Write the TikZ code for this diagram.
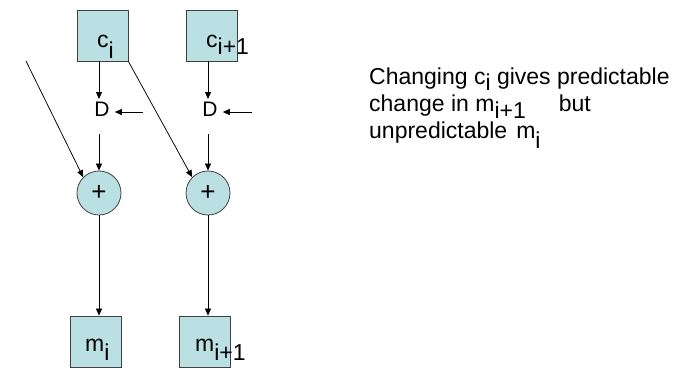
\documentclass[tikz,border=0pt]{standalone}
\usepackage{fontspec}
\setmainfont{Liberation Sans}
\usetikzlibrary{arrows.meta}
\definecolor{cellfill}{RGB}{187,224,227}
\definecolor{celledge}{RGB}{64,64,64}
\newcommand{\lowsub}[2][0.45em]{\raisebox{-#1}[0pt][0pt]{#2}}
\begin{document}
\begin{tikzpicture}[x=1pt,y=-1pt,
  cell/.style={draw=celledge, fill=cellfill, line width=0.8pt, minimum size=51pt, inner sep=0pt},
  adder/.style={draw=celledge, fill=cellfill, line width=0.8pt, circle, minimum size=44pt, inner sep=0pt, font=\fontsize{26}{26}\selectfont},
  lbl/.style={anchor=base west, inner sep=0pt, font=\fontsize{23}{23}\selectfont},
  delay/.style={inner sep=3pt, font=\fontsize{21}{21}\selectfont},
  arr/.style={-{Triangle[length=7pt,width=6pt]}, line width=0.75pt}]
\useasboundingbox (0,0) rectangle (691,368);
\node[cell] (c1) at (102.5,35.5) {};
\node[cell] (c2) at (212,35.5) {};
\node[cell] (m1) at (95.5,341.5) {};
\node[cell] (m2) at (204.5,341.5) {};
\node[lbl] (c1txt) at (97,47) {c\lowsub[0.48em]{i}};
\node[lbl] (c2txt) at (206,47) {c\lowsub[0.33em]{i+1}};
\node[lbl] (m1txt) at (85,351) {m\lowsub[0.43em]{i}};
\node[lbl] (m2txt) at (195,351) {m\lowsub[0.43em]{i+1}};
\node[delay] (d1) at (102,109.5) {D};
\node[delay] (d2) at (210,109.5) {D};
\node[adder] (s1) at (99,193) {+};
\node[adder] (s2) at (208,193) {+};
\coordinate (k1) at (143,112);
\coordinate (k2) at (252,112);
\coordinate (a1) at (26,61);
\coordinate (d1out) at ([yshift=-14pt]d1.south);
\coordinate (d2out) at ([yshift=-14pt]d2.south);
\draw[arr] (c1.south -| s1) -- (d1.north -| s1);
\draw[arr] (c2.south -| s2) -- (d2.north -| s2);
\draw[arr] (k1) -- ([xshift=2pt]d1.east |- k1);
\draw[arr] (k2) -- ([xshift=2pt]d2.east |- k2);
\draw[arr] (d1out -| s1) -- (s1.north);
\draw[arr] (d2out -| s2) -- (s2.north);
\draw[arr] (a1) -- (s1.north west);
\draw[arr] (c1.south east) -- (s2.north west);
\draw[arr] (s1.south) -- (s1.south |- m1.north);
\draw[arr] (s2.south) -- (s2.south |- m2.north);
\node[anchor=north west, align=left, inner sep=0pt, font=\fontsize{23}{27}\selectfont] (note) at (369,67.5)
  {Changing c\lowsub[0.25em]{i} gives predictable\\
   change in m\lowsub[0.3em]{i+1}\hspace{33pt}but\\
   unpredictable\hspace{9pt}m\lowsub[0.42em]{i}};
\end{tikzpicture}
\end{document}
